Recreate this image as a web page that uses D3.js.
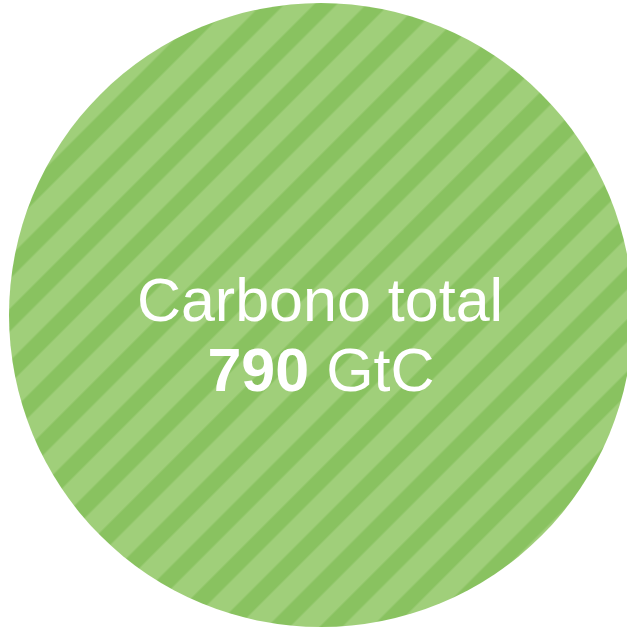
<!DOCTYPE html>
<html>
<head>
<meta charset="utf-8">
<script src="https://cdn.jsdelivr.net/npm/d3@7"></script>
<style>
  html, body { margin: 0; padding: 0; background: #ffffff; overflow: hidden; }
  svg { display: block; }
</style>
</head>
<body>
<svg id="chart" width="627" height="630"></svg>
<script>
// Data
const categories = ["Carbono total"];
const values = [790];
const units = ["GtC"];

const W = 627, H = 630;
const cx = 321, cy = 315, R = 312;

const svg = d3.select("#chart");
const defs = svg.append("defs");

// stripe pattern
const period = 37;
const dark = 16;
const pat = defs.append("pattern")
  .attr("id", "stripes")
  .attr("patternUnits", "userSpaceOnUse")
  .attr("width", period)
  .attr("height", period)
  .attr("patternTransform", "rotate(45)");
pat.append("rect").attr("x", 0).attr("y", 0).attr("width", period).attr("height", period).attr("fill", "#a0cf7a");
pat.append("rect").attr("x", 0).attr("y", 0).attr("width", 13.5).attr("height", period).attr("fill", "#89c260");
pat.append("rect").attr("x", period - (dark - 13.5)).attr("y", 0).attr("width", dark - 13.5).attr("height", period).attr("fill", "#89c260");

// radius scale from value
const rScale = d3.scaleSqrt().domain([0, d3.max(values)]).range([0, R]);

const pie = d3.pie().sort(null).value(d => d);
const arc = d3.arc().innerRadius(0);

const g = svg.append("g").attr("transform", `translate(${cx},${cy})`);

g.selectAll("path.slice")
  .data(pie(values))
  .join("path")
  .attr("class", "slice")
  .attr("d", (d, i) => arc.outerRadius(rScale(values[i]))(d))
  .attr("fill", "url(#stripes)");

// labels
const fontFamily = "'Liberation Sans', Arial, Helvetica, sans-serif";
g.append("text")
  .attr("x", -1).attr("y", 6)
  .attr("text-anchor", "middle")
  .attr("font-family", fontFamily)
  .attr("font-size", 61)
  .attr("fill", "#ffffff")
  .text(categories[0]);

const t2 = g.append("text")
  .attr("x", 0).attr("y", 76)
  .attr("text-anchor", "middle")
  .attr("font-family", fontFamily)
  .attr("font-size", 61)
  .attr("fill", "#ffffff");
t2.append("tspan").attr("font-weight", "bold").text(d3.format("d")(values[0]));
t2.append("tspan").text(" " + units[0]);
</script>
</body>
</html>
